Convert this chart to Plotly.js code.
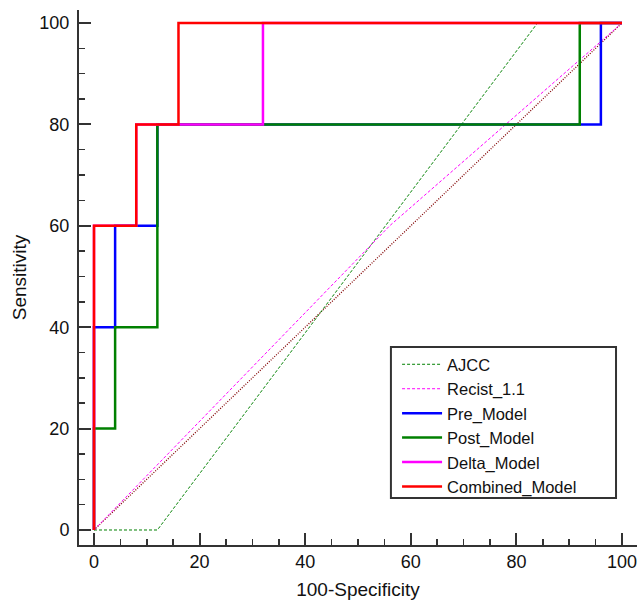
<!DOCTYPE html>
<html>
<head>
<meta charset="utf-8">
<script src="https://cdn.plot.ly/plotly-3.0.1.min.js"></script>
<style>html,body{margin:0;padding:0;background:#fff;}#chart{width:638px;height:605px;}</style>
</head>
<body>
<div id="chart"></div>
<script>
// Reference diagonal
const refX = [0, 100];
const refY = [0, 100];
// AJCC
const ajccX = [0, 12, 84, 100];
const ajccY = [0, 0, 100, 100];
// Recist_1.1
const recistX = [0, 56, 100];
const recistY = [0, 60, 100];
// Pre_Model
const preX = [0, 0, 4, 4, 12, 12, 96, 96, 100];
const preY = [0, 40, 40, 60, 60, 80, 80, 100, 100];
// Post_Model
const postX = [0, 0, 4, 4, 12, 12, 92, 92, 100];
const postY = [0, 20, 20, 40, 40, 80, 80, 100, 100];
// Delta_Model
const deltaX = [0, 0, 8, 8, 32, 32, 100];
const deltaY = [0, 60, 60, 80, 80, 100, 100];
// Combined_Model
const combX = [0, 0, 8, 8, 16, 16, 100];
const combY = [0, 60, 60, 80, 80, 100, 100];

const seriesNames = ['AJCC', 'Recist_1.1', 'Pre_Model', 'Post_Model', 'Delta_Model', 'Combined_Model'];

const traces = [
  {x: refX, y: refY, mode: 'lines', line: {color: '#800000', width: 1.3, dash: '1px,1.5px'}, showlegend: false, hoverinfo: 'skip'},
  {x: ajccX, y: ajccY, name: seriesNames[0], mode: 'lines', line: {color: '#008000', width: 1, dash: '3px,2px'}},
  {x: recistX, y: recistY, name: seriesNames[1], mode: 'lines', line: {color: '#ff00ff', width: 1, dash: '3px,2px'}},
  {x: preX, y: preY, name: seriesNames[2], mode: 'lines', line: {color: '#0000ff', width: 2.5}},
  {x: postX, y: postY, name: seriesNames[3], mode: 'lines', line: {color: '#008000', width: 2.5}},
  {x: deltaX, y: deltaY, name: seriesNames[4], mode: 'lines', line: {color: '#ff00ff', width: 2.5}},
  {x: combX, y: combY, name: seriesNames[5], mode: 'lines', line: {color: '#ff0000', width: 2.5}}
];

const axisCommon = {
  showgrid: false,
  zeroline: false,
  showline: true,
  linecolor: '#333',
  linewidth: 2,
  ticks: 'inside',
  ticklen: 12,
  tickwidth: 2,
  tickcolor: '#333',
  dtick: 20,
  tick0: 0,
  tickfont: {family: '"Liberation Sans", Arial, sans-serif', size: 18, color: '#111'},
  minor: {dtick: 5, ticks: 'inside', ticklen: 6, tickwidth: 1.5, tickcolor: '#333', showgrid: false}
};

const layout = {
  width: 638,
  height: 605,
  margin: {l: 79, r: 1, t: 10, b: 60},
  paper_bgcolor: '#fff',
  plot_bgcolor: '#fff',
  font: {family: '"Liberation Sans", Arial, sans-serif', color: '#111'},
  xaxis: Object.assign({}, axisCommon, {
    range: [-2.84, 102.84],
    ticklabelstandoff: -1,
    title: {text: '100-Specificity', font: {size: 19}, standoff: 12}
  }),
  yaxis: Object.assign({}, axisCommon, {
    range: [-2.96, 102.56],
    ticklabelstandoff: 4,
    title: {text: 'Sensitivity', font: {size: 19}, standoff: 8}
  }),
  legend: {
    x: 0.570, y: 0.370, xanchor: 'left', yanchor: 'top',
    bgcolor: 'rgba(0,0,0,0)',
    borderwidth: 0,
    itemwidth: 40,
    font: {size: 16.5, color: '#111'},
    tracegroupgap: 0
  },
  shapes: [{
    type: 'rect', xref: 'paper', yref: 'paper',
    x0: 0.559, x1: 0.9624, y0: 0.0879, y1: 0.370,
    line: {color: '#333', width: 2}, fillcolor: '#fff', layer: 'below'
  }],
  showlegend: true
};

Plotly.newPlot('chart', traces, layout, {displayModeBar: false, staticPlot: true});
</script>
</body>
</html>
